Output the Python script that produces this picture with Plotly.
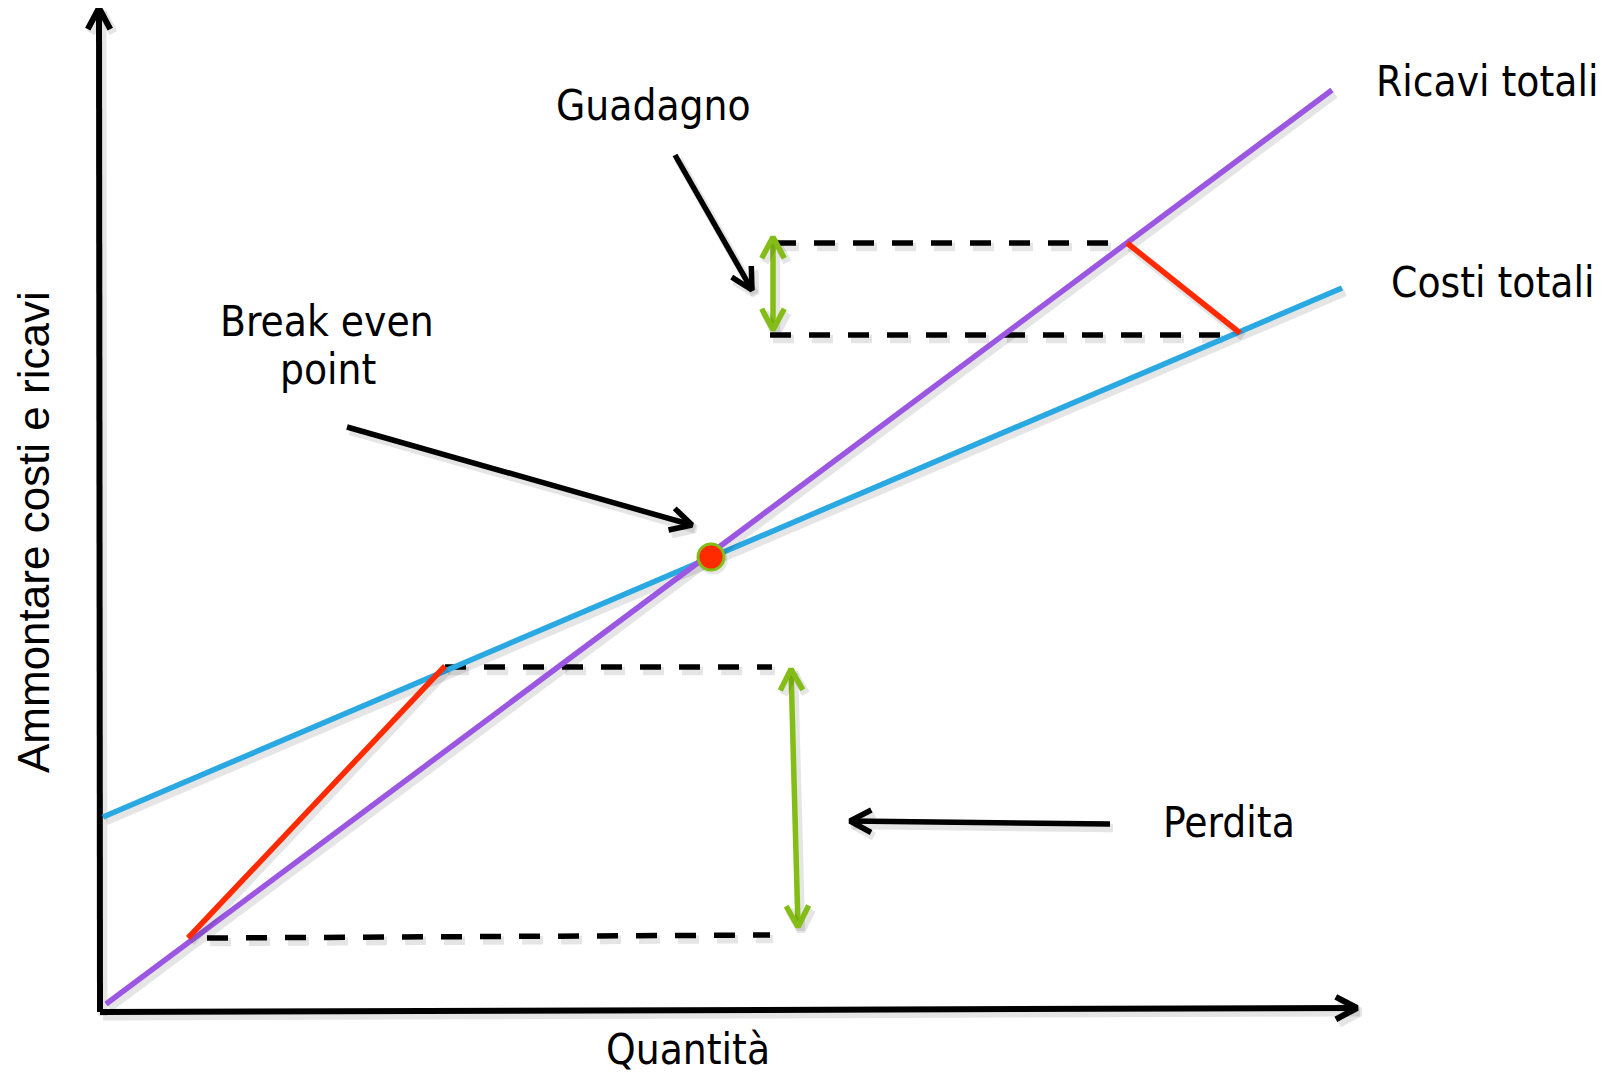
import numpy as np
import plotly.graph_objects as go

# ---- data (diagram units: origin at the axes' corner, y upward) ----
axis_y_x = [0, -1]
axis_y_y = [0, 1004]
axis_x_x = [0, 1257]
axis_x_y = [0, 4]

ricavi_x = [6, 1232]
ricavi_y = [8, 922]
costi_x = [3, 1242]
costi_y = [195, 724]

bep_x = [611]
bep_y = [455]

perdita_red_x = [88, 345]
perdita_red_y = [74, 346]
perdita_dash_low_x = [107, 670]
perdita_dash_low_y = [74, 77]
perdita_dash_high_x = [345, 672]
perdita_dash_high_y = [345, 345]
perdita_span_x = [691, 698]
perdita_span_y = [343, 85]

guad_dash_high_x = [675, 1026]
guad_dash_high_y = [769, 769]
guad_dash_low_x = [670, 1136]
guad_dash_low_y = [677, 677]
guad_red_x = [1027, 1140]
guad_red_y = [769, 679]
guad_span_x = [673, 673]
guad_span_y = [775, 682]

arrow_guad_x = [575, 652]
arrow_guad_y = [857, 722]
arrow_bep_x = [247, 592]
arrow_bep_y = [585, 487]
arrow_perdita_x = [1010, 750]
arrow_perdita_y = [188, 191]

labels = ["Ricavi totali", "Costi totali", "Guadagno", "Break even", "point", "Perdita", "Quantità"]
label_x = [1387, 1392, 553, 227, 228, 1129, 588]
label_y = [931, 730, 907, 691, 643, 190, -37]

ytitle = "Ammontare costi e ricavi"
ytitle_x = -67
ytitle_y = 480

BLACK = "#000000"
PURPLE = "#9B57E2"
BLUE = "#2AA8E2"
RED = "#FF2A00"
GREEN = "#84BD15"
SHADOW = "rgba(0,0,0,0.10)"

fig = go.Figure()


def add_line(xs, ys, color, width, dash=None, shadow=True):
    xs = list(xs)
    ys = list(ys)
    if shadow:
        fig.add_trace(go.Scatter(
            x=[v + 3 for v in xs], y=[v - 4 for v in ys], mode="lines",
            line=dict(color=SHADOW, width=width + 3, dash=dash),
            hoverinfo="skip"))
    fig.add_trace(go.Scatter(
        x=xs, y=ys, mode="lines",
        line=dict(color=color, width=width, dash=dash),
        hoverinfo="skip"))


def head(xs, ys, length=24, ang=28):
    # chevron at the end (xs[1], ys[1]) pointing away from xs[0], ys[0]
    tip = np.array([xs[1], ys[1]], dtype=float)
    tail = np.array([xs[0], ys[0]], dtype=float)
    u = (tip - tail) / np.linalg.norm(tip - tail)
    a = np.radians(ang)
    pts = []
    for s in (1, -1):
        c, sn = np.cos(s * a), np.sin(s * a)
        r = np.array([u[0] * c - u[1] * sn, u[0] * sn + u[1] * c])
        pts.append(tip - length * r)
    return [pts[0][0], tip[0], pts[1][0]], [pts[0][1], tip[1], pts[1][1]]


def add_arrow(xs, ys, color, width, both=False):
    add_line(xs, ys, color, width)
    hx, hy = head(xs, ys)
    add_line(hx, hy, color, width)
    if both:
        hx, hy = head(xs[::-1], ys[::-1])
        add_line(hx, hy, color, width)


# axes
add_arrow(axis_y_x, axis_y_y, BLACK, 6)
add_arrow(axis_x_x, axis_x_y, BLACK, 6)

# dashed guides
dash = "21px,18px"
add_line(perdita_dash_low_x, perdita_dash_low_y, BLACK, 5.5, dash)
add_line(perdita_dash_high_x, perdita_dash_high_y, BLACK, 5.5, dash)
add_line(guad_dash_high_x, guad_dash_high_y, BLACK, 5.5, dash)
add_line(guad_dash_low_x, guad_dash_low_y, BLACK, 5.5, dash)

# main lines
add_line(costi_x, costi_y, BLUE, 5.5)
add_line(ricavi_x, ricavi_y, PURPLE, 5.5)

# red connectors
add_line(perdita_red_x, perdita_red_y, RED, 5.5)
add_line(guad_red_x, guad_red_y, RED, 5.5)

# green spans
add_arrow(perdita_span_x, perdita_span_y, GREEN, 5.5, both=True)
add_arrow(guad_span_x, guad_span_y, GREEN, 5.5, both=True)

# black pointer arrows
add_arrow(arrow_guad_x, arrow_guad_y, BLACK, 5.5)
add_arrow(arrow_bep_x, arrow_bep_y, BLACK, 5.5)
add_arrow(arrow_perdita_x, arrow_perdita_y, BLACK, 5.5)

# break-even point
fig.add_trace(go.Scatter(
    x=[bep_x[0] + 2], y=[bep_y[0] - 3], mode="markers",
    marker=dict(size=29, color=SHADOW), hoverinfo="skip"))
fig.add_trace(go.Scatter(
    x=bep_x, y=bep_y, mode="markers",
    marker=dict(size=26, color=RED, line=dict(color=GREEN, width=3)),
    hoverinfo="skip"))

TFONT = dict(family="DejaVu Sans Condensed, Open Sans, sans-serif", size=42, color="#000000")
for t, x, y in zip(labels, label_x, label_y):
    fig.add_annotation(x=x, y=y, text=t, showarrow=False, xanchor="center",
                       yanchor="middle", font=TFONT)

fig.add_annotation(x=ytitle_x, y=ytitle_y, text=ytitle, showarrow=False,
                   textangle=-90, xanchor="center", yanchor="middle",
                   font=dict(family="Liberation Sans, Arial, sans-serif", size=44, color="#000000"))

# slide number, mostly cut off at the bottom edge
fig.add_annotation(x=1508, y=-57, text="3", showarrow=False, xanchor="center",
                   yanchor="top", font=dict(family="Open Sans", size=30, color="#7FA3D3"))

# the page body adds an 8px offset; ranges compensate so the diagram sits where the reference has it
fig.update_layout(
    width=1615, height=1076,
    margin=dict(l=0, r=0, t=0, b=0),
    paper_bgcolor="white", plot_bgcolor="white",
    showlegend=False,
    xaxis=dict(range=[-92, 1523], visible=False, fixedrange=True),
    yaxis=dict(range=[-72, 1004], visible=False, fixedrange=True),
)

fig.write_html("out.html")
